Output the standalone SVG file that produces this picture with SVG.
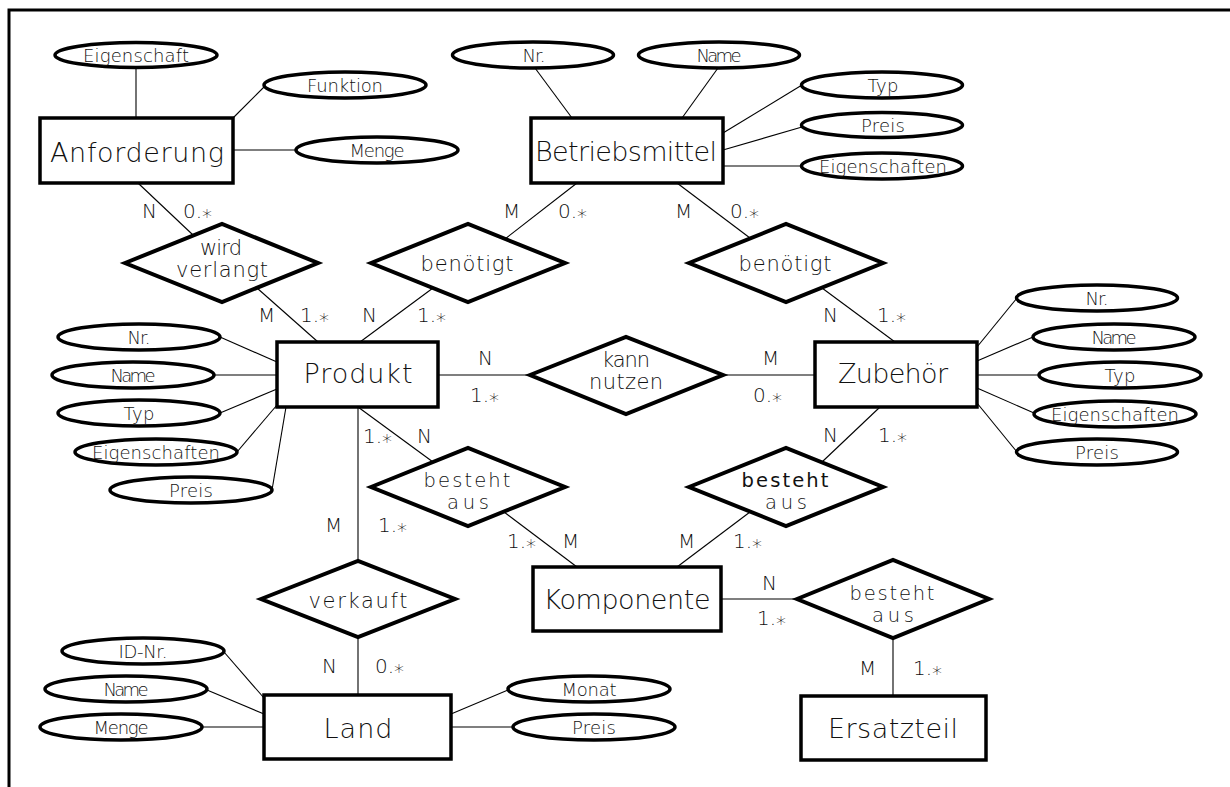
<svg xmlns="http://www.w3.org/2000/svg" width="1230" height="787" viewBox="0 0 1230 787">
  <style>
    text { font-family: "DejaVu Sans", "Liberation Sans", sans-serif; font-weight: 200; fill: #111; text-anchor: middle; }
    .ent { font-size: 27px; }
    .rel { font-size: 21px; }
    .rel2 { font-size: 19.5px; }
    .att { font-size: 18px; }
    .card { font-size: 20px; text-anchor: start; }
    .bold { font-weight: 400; }
    .box { fill: #fff; stroke: #000; stroke-width: 3.5; }
    .dia { fill: #fff; stroke: #000; stroke-width: 4; stroke-linejoin: miter; }
    .ell { fill: #fff; stroke: #000; stroke-width: 3.5; }
    .ln { stroke: #000; stroke-width: 1.1; fill: none; }
    .frame { stroke: #000; stroke-width: 3; fill: none; }
  </style>

  <rect width="1230" height="787" fill="#fff"/>
  <path class="frame" d="M9 787 V10 H1230"/>

  <!-- connectors -->
  <g id="connectors">
    <!-- Anforderung attributes -->
    <line class="ln" x1="136" y1="68" x2="136" y2="118"/>
    <line class="ln" x1="233" y1="118" x2="264" y2="87"/>
    <line class="ln" x1="233" y1="150" x2="296" y2="150"/>
    <!-- Anforderung / wird verlangt / Produkt -->
    <line class="ln" x1="138" y1="183" x2="193" y2="235"/>
    <line class="ln" x1="257" y1="288" x2="318" y2="342"/>
    <!-- Produkt / benötigt / Betriebsmittel -->
    <line class="ln" x1="433" y1="288" x2="360" y2="342"/>
    <line class="ln" x1="577" y1="183" x2="505" y2="239"/>
    <!-- Betriebsmittel / benötigt / Zubehör -->
    <line class="ln" x1="677" y1="183" x2="750" y2="238"/>
    <line class="ln" x1="822" y1="288" x2="895" y2="342"/>
    <!-- Betriebsmittel attributes -->
    <line class="ln" x1="535" y1="68" x2="572" y2="118"/>
    <line class="ln" x1="718" y1="68" x2="682" y2="118"/>
    <line class="ln" x1="723" y1="133" x2="802" y2="85"/>
    <line class="ln" x1="723" y1="150" x2="802" y2="127"/>
    <line class="ln" x1="723" y1="166" x2="802" y2="166"/>
    <!-- Produkt attributes -->
    <line class="ln" x1="220" y1="337" x2="277" y2="362"/>
    <line class="ln" x1="214" y1="375" x2="277" y2="375"/>
    <line class="ln" x1="220" y1="413" x2="277" y2="389"/>
    <line class="ln" x1="237" y1="452" x2="277" y2="405"/>
    <line class="ln" x1="272" y1="490" x2="286" y2="407"/>
    <!-- Produkt / kann nutzen / Zubehör -->
    <line class="ln" x1="438" y1="375" x2="530" y2="375"/>
    <line class="ln" x1="723" y1="375" x2="815" y2="375"/>
    <!-- Zubehör attributes -->
    <line class="ln" x1="977" y1="347" x2="1017" y2="298"/>
    <line class="ln" x1="977" y1="361" x2="1033" y2="337"/>
    <line class="ln" x1="977" y1="375" x2="1039" y2="375"/>
    <line class="ln" x1="977" y1="388" x2="1034" y2="413"/>
    <line class="ln" x1="977" y1="403" x2="1017" y2="452"/>
    <!-- Produkt / besteht aus / Komponente -->
    <line class="ln" x1="358" y1="407" x2="433" y2="462"/>
    <line class="ln" x1="504" y1="512" x2="577" y2="567"/>
    <!-- Zubehör / besteht aus / Komponente -->
    <line class="ln" x1="880" y1="407" x2="822" y2="462"/>
    <line class="ln" x1="750" y1="512" x2="677" y2="567"/>
    <!-- Komponente / besteht aus / Ersatzteil -->
    <line class="ln" x1="721" y1="599" x2="797" y2="599"/>
    <line class="ln" x1="893" y1="638" x2="893" y2="696"/>
    <!-- Produkt / verkauft / Land -->
    <line class="ln" x1="358" y1="407" x2="358" y2="561"/>
    <line class="ln" x1="358" y1="637" x2="358" y2="695"/>
    <!-- Land attributes -->
    <line class="ln" x1="224" y1="652" x2="264" y2="698"/>
    <line class="ln" x1="207" y1="690" x2="264" y2="714"/>
    <line class="ln" x1="202" y1="727" x2="264" y2="727"/>
    <line class="ln" x1="451" y1="714" x2="508" y2="690"/>
    <line class="ln" x1="451" y1="727" x2="513" y2="727"/>
  </g>

  <!-- cardinalities -->
  <g id="cardinalities" class="card">
    <text class="card" x="142" y="218">N</text>
    <text class="card" x="183" y="218">0.<tspan dy="5">*</tspan></text>
    <text class="card" x="258" y="322">M</text>
    <text class="card" x="300" y="322">1.<tspan dy="5">*</tspan></text>
    <text class="card" x="362" y="322">N</text>
    <text class="card" x="417" y="322">1.<tspan dy="5">*</tspan></text>
    <text class="card" x="503" y="218">M</text>
    <text class="card" x="558" y="218">0.<tspan dy="5">*</tspan></text>
    <text class="card" x="675" y="218">M</text>
    <text class="card" x="730" y="218">0.<tspan dy="5">*</tspan></text>
    <text class="card" x="823" y="322">N</text>
    <text class="card" x="877" y="322">1.<tspan dy="5">*</tspan></text>
    <text class="card" x="478" y="365">N</text>
    <text class="card" x="470" y="402">1.<tspan dy="5">*</tspan></text>
    <text class="card" x="762" y="365">M</text>
    <text class="card" x="753" y="402">0.<tspan dy="5">*</tspan></text>
    <text class="card" x="363" y="443">1.<tspan dy="5">*</tspan></text>
    <text class="card" x="417" y="443">N</text>
    <text class="card" x="325" y="532">M</text>
    <text class="card" x="378" y="532">1.<tspan dy="5">*</tspan></text>
    <text class="card" x="507" y="548">1.<tspan dy="5">*</tspan></text>
    <text class="card" x="562" y="548">M</text>
    <text class="card" x="678" y="548">M</text>
    <text class="card" x="733" y="548">1.<tspan dy="5">*</tspan></text>
    <text class="card" x="823" y="442">N</text>
    <text class="card" x="878" y="442">1.<tspan dy="5">*</tspan></text>
    <text class="card" x="762" y="590">N</text>
    <text class="card" x="757" y="625">1.<tspan dy="5">*</tspan></text>
    <text class="card" x="859" y="675">M</text>
    <text class="card" x="913" y="675">1.<tspan dy="5">*</tspan></text>
    <text class="card" x="322" y="673">N</text>
    <text class="card" x="375" y="673">0.<tspan dy="5">*</tspan></text>
  </g>

  <!-- entities -->
  <g id="anforderung">
    <rect class="box" x="40" y="118" width="193" height="65"/>
    <text class="ent" x="137" y="162" textLength="174">Anforderung</text>
  </g>
  <g id="betriebsmittel">
    <rect class="box" x="531" y="118" width="192" height="65"/>
    <text class="ent" x="626" y="161" textLength="182">Betriebsmittel</text>
  </g>
  <g id="produkt">
    <rect class="box" x="277" y="342" width="161" height="65"/>
    <text class="ent" x="358" y="383" textLength="109">Produkt</text>
  </g>
  <g id="zubehoer">
    <rect class="box" x="815" y="342" width="162" height="65"/>
    <text class="ent" x="893" y="383" textLength="110">Zubehör</text>
  </g>
  <g id="komponente">
    <rect class="box" x="533" y="567" width="188" height="64"/>
    <text class="ent" x="627" y="609" textLength="167">Komponente</text>
  </g>
  <g id="land">
    <rect class="box" x="264" y="695" width="187" height="64"/>
    <text class="ent" x="358" y="738" textLength="69">Land</text>
  </g>
  <g id="ersatzteil">
    <rect class="box" x="801" y="696" width="185" height="64"/>
    <text class="ent" x="893" y="738" textLength="130">Ersatzteil</text>
  </g>

  <!-- relationships -->
  <g id="wird-verlangt">
    <polygon class="dia" points="125,263 222,224 318,263 222,302"/>
    <text class="rel" x="221" y="255" textLength="42">wird</text>
    <text class="rel" x="222" y="277" textLength="92">verlangt</text>
  </g>
  <g id="benoetigt-produkt">
    <polygon class="dia" points="371,263 468,224 565,263 468,302"/>
    <text class="rel" x="467" y="271" textLength="93">benötigt</text>
  </g>
  <g id="benoetigt-zubehoer">
    <polygon class="dia" points="689,263 786,224 883,263 786,302"/>
    <text class="rel" x="785" y="271" textLength="93">benötigt</text>
  </g>
  <g id="kann-nutzen">
    <polygon class="dia" points="530,375 626,337 723,375 626,414"/>
    <text class="rel" x="626" y="367" textLength="48">kann</text>
    <text class="rel" x="626" y="389" textLength="74">nutzen</text>
  </g>
  <g id="besteht-aus-produkt">
    <polygon class="dia" points="371,487 468,448 565,487 468,526"/>
    <text class="rel2" x="467" y="487" textLength="87">besteht</text>
    <text class="rel2" x="468" y="509" textLength="42">aus</text>
  </g>
  <g id="besteht-aus-zubehoer">
    <polygon class="dia" points="689,487 786,448 883,487 786,526"/>
    <text class="rel2 bold" x="785" y="487" textLength="87">besteht</text>
    <text class="rel2" x="786" y="509" textLength="42">aus</text>
  </g>
  <g id="verkauft">
    <polygon class="dia" points="261,599 358,561 455,599 358,637"/>
    <text class="rel" x="358" y="608" textLength="99">verkauft</text>
  </g>
  <g id="besteht-aus-komponente">
    <polygon class="dia" points="797,599 893,560 989,599 893,638"/>
    <text class="rel2" x="892" y="600" textLength="85">besteht</text>
    <text class="rel2" x="893" y="622" textLength="42">aus</text>
  </g>

  <!-- attributes -->
  <g id="anforderung-eigenschaft">
    <ellipse class="ell" cx="136" cy="55" rx="81" ry="12.5"/>
    <text class="att" x="136" y="62" textLength="106">Eigenschaft</text>
  </g>
  <g id="anforderung-funktion">
    <ellipse class="ell" cx="345" cy="85" rx="81" ry="13"/>
    <text class="att" x="345" y="92" textLength="76">Funktion</text>
  </g>
  <g id="anforderung-menge">
    <ellipse class="ell" cx="377" cy="150" rx="81" ry="13"/>
    <text class="att" x="377" y="157" textLength="55">Menge</text>
  </g>
  <g id="betriebsmittel-nr">
    <ellipse class="ell" cx="533" cy="55" rx="80.5" ry="13"/>
    <text class="att" x="534" y="62" textLength="23">Nr.</text>
  </g>
  <g id="betriebsmittel-name">
    <ellipse class="ell" cx="719" cy="55" rx="80.5" ry="13"/>
    <text class="att" x="719" y="62" textLength="45">Name</text>
  </g>
  <g id="betriebsmittel-typ">
    <ellipse class="ell" cx="882" cy="85" rx="80.5" ry="13"/>
    <text class="att" x="883" y="92" textLength="31">Typ</text>
  </g>
  <g id="betriebsmittel-preis">
    <ellipse class="ell" cx="882" cy="125" rx="80.5" ry="12.5"/>
    <text class="att" x="883" y="132" textLength="44">Preis</text>
  </g>
  <g id="betriebsmittel-eigenschaften">
    <ellipse class="ell" cx="882" cy="166" rx="80.5" ry="13"/>
    <text class="att" x="883" y="173" textLength="128">Eigenschaften</text>
  </g>
  <g id="produkt-nr">
    <ellipse class="ell" cx="139" cy="337" rx="81" ry="13"/>
    <text class="att" x="139" y="344" textLength="23">Nr.</text>
  </g>
  <g id="produkt-name">
    <ellipse class="ell" cx="133" cy="375" rx="81" ry="13"/>
    <text class="att" x="133" y="382" textLength="45">Name</text>
  </g>
  <g id="produkt-typ">
    <ellipse class="ell" cx="139" cy="413" rx="81" ry="13"/>
    <text class="att" x="139" y="420" textLength="31">Typ</text>
  </g>
  <g id="produkt-eigenschaften">
    <ellipse class="ell" cx="156" cy="452" rx="81" ry="13"/>
    <text class="att" x="156" y="459" textLength="128">Eigenschaften</text>
  </g>
  <g id="produkt-preis">
    <ellipse class="ell" cx="191" cy="490" rx="81" ry="13"/>
    <text class="att" x="191" y="497" textLength="44">Preis</text>
  </g>
  <g id="zubehoer-nr">
    <ellipse class="ell" cx="1097" cy="298" rx="80.5" ry="13"/>
    <text class="att" x="1097" y="305" textLength="23">Nr.</text>
  </g>
  <g id="zubehoer-name">
    <ellipse class="ell" cx="1114" cy="337" rx="81" ry="13"/>
    <text class="att" x="1114" y="344" textLength="45">Name</text>
  </g>
  <g id="zubehoer-typ">
    <ellipse class="ell" cx="1120" cy="375" rx="81" ry="13"/>
    <text class="att" x="1120" y="382" textLength="31">Typ</text>
  </g>
  <g id="zubehoer-eigenschaften">
    <ellipse class="ell" cx="1115" cy="414" rx="81" ry="13"/>
    <text class="att" x="1115" y="421" textLength="128">Eigenschaften</text>
  </g>
  <g id="zubehoer-preis">
    <ellipse class="ell" cx="1097" cy="452" rx="80.5" ry="13"/>
    <text class="att" x="1097" y="459" textLength="44">Preis</text>
  </g>
  <g id="land-id-nr">
    <ellipse class="ell" cx="143" cy="651" rx="81" ry="13"/>
    <text class="att" x="143" y="658" textLength="49">ID-Nr.</text>
  </g>
  <g id="land-name">
    <ellipse class="ell" cx="126" cy="689" rx="81" ry="13"/>
    <text class="att" x="126" y="696" textLength="45">Name</text>
  </g>
  <g id="land-menge">
    <ellipse class="ell" cx="121" cy="727" rx="81" ry="13"/>
    <text class="att" x="121" y="734" textLength="55">Menge</text>
  </g>
  <g id="land-monat">
    <ellipse class="ell" cx="589" cy="689" rx="81" ry="13"/>
    <text class="att" x="589" y="696" textLength="55">Monat</text>
  </g>
  <g id="land-preis">
    <ellipse class="ell" cx="594" cy="727" rx="81" ry="13"/>
    <text class="att" x="594" y="734" textLength="44">Preis</text>
  </g>
</svg>
